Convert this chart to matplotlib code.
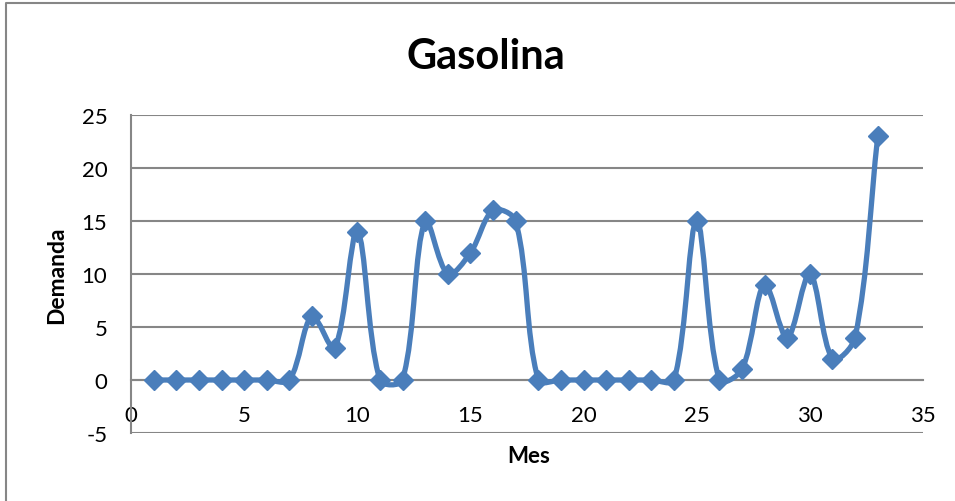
import numpy as np
import matplotlib
matplotlib.use("Agg")
import matplotlib.pyplot as plt
from matplotlib.path import Path
from matplotlib.patches import PathPatch
from matplotlib.lines import Line2D

# data
mes = list(range(1, 34))
demanda = [0, 0, 0, 0, 0, 0, 0, 6, 3, 14, 0, 0, 15, 10, 12, 16, 15,
           0, 0, 0, 0, 0, 0, 0, 15, 0, 1, 9, 4, 10, 2, 4, 23]
x_ticks = [0, 5, 10, 15, 20, 25, 30, 35]
y_ticks = [-5, 0, 5, 10, 15, 20, 25]

BLUE = "#4a7ebb"
GRAY = "#868686"
plt.rcParams["font.family"] = ["Lato", "DejaVu Sans"]
plt.rcParams["axes.unicode_minus"] = False

# axes box in pixels
X0, X1, Y0, Y1 = 131, 923, 116, 434
XMIN, XMAX, YMIN, YMAX = 0, 35, -5, 25


def smooth_path(xs, ys, sx, sy):
    """Excel-like smoothed line: Bezier handles scaled by neighbour segment length."""
    pts = np.column_stack([xs, ys]).astype(float)
    scale = np.array([sx, sy])
    n = len(pts)

    def dist(a, b):
        return np.hypot(*((b - a) * scale))

    verts = [pts[0]]
    codes = [Path.MOVETO]
    for i in range(n - 1):
        p0 = pts[max(i - 1, 0)]
        p1 = pts[i]
        p2 = pts[i + 1]
        p3 = pts[min(i + 2, n - 1)]
        d01, d12, d23 = dist(p0, p1), dist(p1, p2), dist(p2, p3)
        c1 = p1 + (p2 - p0) * d12 / (d01 + d12) / 3
        c2 = p2 - (p3 - p1) * d12 / (d12 + d23) / 3
        verts += [c1, c2, p2]
        codes += [Path.CURVE4] * 3
    return Path(verts, codes)


fig = plt.figure(figsize=(9.55, 5.02), dpi=100)
ax = fig.add_axes([X0 / 955, 1 - Y1 / 502, (X1 - X0) / 955, (Y1 - Y0) / 502])

sx = (X1 - X0) / (XMAX - XMIN)
sy = (Y1 - Y0) / (YMAX - YMIN)
ax.add_patch(PathPatch(smooth_path(mes, demanda, sx, sy), facecolor="none",
                       edgecolor=BLUE, lw=3.8, capstyle="round",
                       joinstyle="round", zorder=3))
ax.plot(mes, demanda, linestyle="none", marker="D", markersize=10,
        color=BLUE, zorder=4)

ax.set_xlim(XMIN, XMAX)
ax.set_ylim(YMIN, YMAX)
ax.set_xticks(x_ticks)
ax.set_yticks(y_ticks)
ax.grid(axis="y", color=GRAY, lw=1.5)
ax.set_axisbelow(True)

for side in ["top", "right"]:
    ax.spines[side].set_visible(False)
ax.spines["bottom"].set_position(("data", 0))
ax.spines["bottom"].set_color(GRAY)
ax.spines["bottom"].set_linewidth(1.5)
ax.spines["left"].set_color(GRAY)
ax.spines["left"].set_linewidth(1.5)
ax.tick_params(axis="x", length=0, pad=18, labelsize=16)
ax.tick_params(axis="y", length=0, pad=17, labelsize=16)

fig.text(486 / 955, 1 - 57 / 502, "Gasolina", ha="center", va="center",
         fontsize=30, fontweight="bold")
fig.text(529 / 955, 1 - 457 / 502, "Mes", ha="center", va="center",
         fontsize=16, fontweight="bold")
fig.text(57 / 955, 1 - 275 / 502, "Demanda", ha="center", va="center",
         rotation=90, fontsize=16.5, fontweight="bold")

# chart-area border (only left and top edges are in view)
fig.lines.append(Line2D([6 / 955, 6 / 955, 1], [0, 1 - 4 / 502, 1 - 4 / 502],
                        transform=fig.transFigure, color=GRAY, lw=1.5))

fig.savefig("out.png", dpi=100)
